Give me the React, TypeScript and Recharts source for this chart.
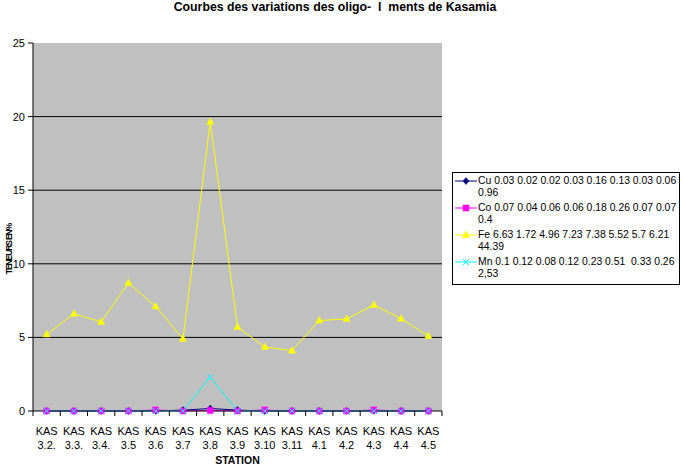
import React from 'react';
import { LineChart, Line, XAxis, YAxis, CartesianGrid, Label } from 'recharts';

const stations = ['3.2.', '3.3.', '3.4.', '3.5', '3.6', '3.7', '3.8', '3.9', '3.10', '3.11', '4.1', '4.2', '4.3', '4.4', '4.5'];
const stationPrefix = 'KAS';
const cu = [0, 0, 0, 0, 0.01, 0.06, 0.17, 0.06, 0, 0, 0, 0, 0.01, 0, 0];
const co = [0, 0, 0, 0, 0.07, 0, 0.04, 0, 0.07, 0, 0, 0, 0.07, 0, 0];
const fe = [5.2, 6.6, 6.05, 8.7, 7.1, 4.9, 19.65, 5.7, 4.35, 4.1, 6.15, 6.25, 7.2, 6.27, 5.1];
const mn = [0, 0, 0, 0, 0, 0, 2.3, 0, 0, 0, 0, 0, 0, 0, 0];
const yTicks = [0, 5, 10, 15, 20, 25];
const gridValues = [5, 10, 15, 20];

const cuLegend = ['Cu 0.03 0.02 0.02 0.03 0.16 0.13 0.03 0.06', '0.96'];
const coLegend = ['Co 0.07 0.04 0.06 0.06 0.18 0.26 0.07 0.07', '0.4'];
const feLegend = ['Fe 6.63 1.72 4.96 7.23 7.38 5.52 5.7 6.21', '44.39'];
const mnLegend = ['Mn 0.1 0.12 0.08 0.12 0.23 0.51  0.33 0.26', '2,53'];

const title = 'Courbes des variations des oligo-  l  ments de Kasamia';
const xTitle = 'STATION';
const yTitle = 'TENEURS EN%';

const data = stations.map((s, i) => ({ station: s, Cu: cu[i], Co: co[i], Fe: fe[i], Mn: mn[i] }));

const FONT = '"Liberation Sans", Arial, sans-serif';
const W = 682;
const H = 467;
const M = { top: 43, right: 240, bottom: 0, left: 0 };
const Y_W = 33;
const X_H = 56;
const PLOT_W = W - M.right - M.left - Y_W;
const HALF_BAND = PLOT_W / stations.length / 2;

const COLORS = { Cu: '#000080', Co: '#ff00ff', Fe: '#ffff00', Mn: '#00ffff' };

type Shape = 'diamond' | 'square' | 'triangle' | 'x';

const marker = (shape: Shape, color: string, cx: number, cy: number, key?: any) => {
  if (shape === 'diamond') {
    return <polygon key={key} points={`${cx},${cy - 3.5} ${cx + 3},${cy} ${cx},${cy + 3.5} ${cx - 3},${cy}`} fill={color} stroke={color} strokeWidth={0.5} />;
  }
  if (shape === 'square') {
    return <rect key={key} x={cx - 3} y={cy - 3} width={6} height={6} fill={color} stroke={color} strokeWidth={0.5} />;
  }
  if (shape === 'triangle') {
    return <polygon key={key} points={`${cx},${cy - 4} ${cx + 3.5},${cy + 2.5} ${cx - 3.5},${cy + 2.5}`} fill={color} stroke={color} strokeWidth={0.5} />;
  }
  return (
    <g key={key}>
      <line x1={cx - 3} y1={cy - 3} x2={cx + 3} y2={cy + 3} stroke={color} strokeWidth={1} />
      <line x1={cx - 3} y1={cy + 3} x2={cx + 3} y2={cy - 3} stroke={color} strokeWidth={1} />
    </g>
  );
};

const dotFor = (shape: Shape, color: string) => (p: any) => {
  const { cx, cy, index } = p;
  if (cx == null || cy == null) return <g key={`e-${index}`} />;
  return marker(shape, color, cx, cy, `d-${index}`);
};

const XTick = (props: any) => {
  const { x, y, payload, index } = props;
  const last = index === stations.length - 1;
  return (
    <g>
      <line x1={x - HALF_BAND} x2={x - HALF_BAND} y1={y} y2={y + 5} stroke="#000" strokeWidth={1} />
      {last && <line x1={x + HALF_BAND} x2={x + HALF_BAND} y1={y} y2={y + 5} stroke="#000" strokeWidth={1} />}
      <text x={x} y={y + 24} textAnchor="middle" fontFamily={FONT} fontSize={11} fill="#000">{stationPrefix}</text>
      <text x={x} y={y + 38} textAnchor="middle" fontFamily={FONT} fontSize={11} fill="#000">{payload.value}</text>
    </g>
  );
};

const legendItems: { lines: string[]; shape: Shape; color: string }[] = [
  { lines: cuLegend, shape: 'diamond', color: COLORS.Cu },
  { lines: coLegend, shape: 'square', color: COLORS.Co },
  { lines: feLegend, shape: 'triangle', color: COLORS.Fe },
  { lines: mnLegend, shape: 'x', color: COLORS.Mn },
];

export default function App() {
  return (
    <div style={{ position: 'absolute', left: 0, top: 0, width: W, height: H, background: '#fff', fontFamily: FONT }}>
      <div style={{ position: 'absolute', left: 0, top: 0, width: 670, textAlign: 'center', fontSize: 12.3, fontWeight: 'bold', lineHeight: '14px', whiteSpace: 'pre' }}>
        {title}
      </div>
      <LineChart width={W} height={H} data={data} margin={M}>
        <CartesianGrid horizontal={true} vertical={false} stroke="#000" strokeWidth={1} fill="#c0c0c0" horizontalValues={gridValues} />
        <XAxis dataKey="station" height={X_H} padding={{ left: HALF_BAND, right: HALF_BAND }} tickLine={false} tickSize={0} tickMargin={0} axisLine={{ stroke: '#000', strokeWidth: 1 }} tick={<XTick />} interval={0}>
          <Label content={(p: any) => {
            const vb = p.viewBox;
            return <text x={vb.x + vb.width / 2} y={vb.y + 53} textAnchor="middle" fontFamily={FONT} fontSize={10.5} fontWeight="bold" fill="#000">{xTitle}</text>;
          }} />
        </XAxis>
        <YAxis width={Y_W} domain={[0, 25]} ticks={yTicks} interval={0} tickSize={5} tickMargin={3} axisLine={{ stroke: '#000', strokeWidth: 1 }} tickLine={{ stroke: '#000' }} tick={{ fontFamily: FONT, fontSize: 11, fill: '#000' }}>
          <Label content={(p: any) => {
            const vb = p.viewBox;
            const cy = vb.y + vb.height / 2 + 22;
            return <text transform={`translate(${vb.x + 12}, ${cy}) rotate(-90)`} textAnchor="middle" fontFamily={FONT} fontSize={8.5} fontWeight="bold" letterSpacing={-1.1} fill="#000">{yTitle}</text>;
          }} />
        </YAxis>
        <Line type="linear" dataKey="Cu" stroke={COLORS.Cu} strokeWidth={1} dot={dotFor('diamond', COLORS.Cu)} activeDot={false} isAnimationActive={false} />
        <Line type="linear" dataKey="Co" stroke={COLORS.Co} strokeWidth={1} dot={dotFor('square', COLORS.Co)} activeDot={false} isAnimationActive={false} />
        <Line type="linear" dataKey="Fe" stroke={COLORS.Fe} strokeWidth={1} dot={dotFor('triangle', COLORS.Fe)} activeDot={false} isAnimationActive={false} />
        <Line type="linear" dataKey="Mn" stroke={COLORS.Mn} strokeWidth={1} dot={dotFor('x', COLORS.Mn)} activeDot={false} isAnimationActive={false} />
      </LineChart>
      <div style={{ position: 'absolute', left: 452, top: 172, width: 226, height: 111, border: '1px solid #000', background: '#fff', boxSizing: 'content-box' }}>
        {legendItems.map((it, i) => (
          <div key={i} style={{ position: 'absolute', left: 0, top: 2 + i * 27, width: 226 }}>
            <svg width={24} height={12} style={{ position: 'absolute', left: 1, top: 0 }}>
              <line x1={1} x2={23} y1={6} y2={6} stroke={it.color} strokeWidth={1} />
              {marker(it.shape, it.color, 12, 6)}
            </svg>
            <div style={{ position: 'absolute', left: 25, top: 0, fontSize: 10.4, lineHeight: '12px', whiteSpace: 'pre', color: '#000' }}>
              {it.lines[0]}
              <br />
              {it.lines[1]}
            </div>
          </div>
        ))}
      </div>
    </div>
  );
}
